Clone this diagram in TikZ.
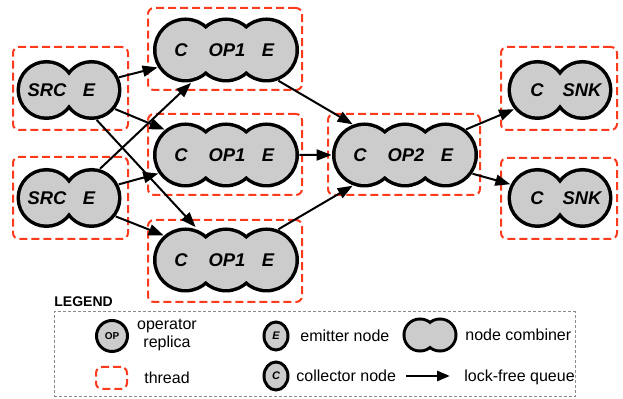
\documentclass[tikz,border=0pt]{standalone}
\usepackage{fontspec}
\setmainfont{Liberation Sans}
\usetikzlibrary{arrows.meta,shapes.misc,shapes.geometric}
\definecolor{lobegray}{RGB}{204,204,204}
\definecolor{threadred}{RGB}{252,58,28}
\definecolor{legendgray}{RGB}{140,140,140}

\begin{document}
\begin{tikzpicture}[x=0.5pt,y=-0.5pt,
	twocomb/.style={rounded rectangle, minimum width=52.5pt, minimum height=30pt, inner sep=0pt},
	threecomb/.style={rounded rectangle, minimum width=73pt, minimum height=32.5pt, inner sep=0pt},
	lobe/.style={fill=lobegray, draw=black, line width=3.5pt},
	thread/.style={draw=threadred, dash pattern=on 4pt off 2pt, line width=1pt,
		rounded corners=3pt, inner sep=0pt},
	queue/.style={-{Triangle[length=7.5pt,width=5.5pt]}, line width=1pt},
	lbl/.style={font=\fontsize{9.2}{11}\selectfont\bfseries\itshape, inner sep=0pt},
	legtext/.style={font=\fontsize{8}{9}\selectfont, inner sep=0pt}]
	\useasboundingbox (0,0) rectangle (623,399);

	% threads
	\node[thread, minimum width=57.5pt, minimum height=41.5pt] (src1-th) at (70.5,88.5) {};
	\node[thread, minimum width=57.5pt, minimum height=41pt] (src2-th) at (70.5,198) {};
	\node[thread, minimum width=77pt, minimum height=41pt] (op1a-th) at (225,49) {};
	\node[thread, minimum width=77pt, minimum height=40.5pt] (op1b-th) at (225,154.5) {};
	\node[thread, minimum width=77pt, minimum height=41pt] (op1c-th) at (225,261) {};
	\node[thread, minimum width=76pt, minimum height=40.5pt] (op2-th) at (404,154.5) {};
	\node[thread, minimum width=58pt, minimum height=41.5pt] (snk1-th) at (559,88.5) {};
	\node[thread, minimum width=58pt, minimum height=40.5pt] (snk2-th) at (559,198.5) {};

	% node combiners
	\node[twocomb] (src1) at (69,90) {};
	\node[twocomb] (src2) at (69,198) {};
	\node[threecomb] (op1a) at (226,50) {};
	\node[threecomb] (op1b) at (226,155) {};
	\node[threecomb] (op1c) at (226,260) {};
	\node[threecomb] (op2) at (405,155) {};
	\node[twocomb] (snk1) at (560,90) {};
	\node[twocomb] (snk2) at (560,198) {};

	\foreach \n in {src1,src2,snk1,snk2}
		\draw[lobe] ([xshift=-11.25pt]\n.center) circle[radius=13.25pt]
			([xshift=11.25pt]\n.center) circle[radius=13.25pt];
	\foreach \n in {op1a,op1b,op1c,op2}
		\draw[lobe] ([xshift=-20.25pt]\n.center) circle[radius=14.5pt]
			(\n.center) circle[radius=14.5pt]
			([xshift=20.25pt]\n.center) circle[radius=14.5pt];
	\foreach \n in {src1,src2,snk1,snk2}
		\fill[lobegray] ([xshift=-11.25pt]\n.center) circle[radius=13.25pt]
			([xshift=11.25pt]\n.center) circle[radius=13.25pt];
	\foreach \n in {op1a,op1b,op1c,op2}
		\fill[lobegray] ([xshift=-20.25pt]\n.center) circle[radius=14.5pt]
			(\n.center) circle[radius=14.5pt]
			([xshift=20.25pt]\n.center) circle[radius=14.5pt];

	% labels
	\node[lbl] (src1-src) at ([xshift=-11pt]src1.center) {SRC};
	\node[lbl] (src1-e) at ([xshift=10pt]src1.center) {E};
	\node[lbl] (src2-src) at ([xshift=-11pt]src2.center) {SRC};
	\node[lbl] (src2-e) at ([xshift=10pt]src2.center) {E};
	\foreach \n/\t in {op1a/OP1,op1b/OP1,op1c/OP1,op2/OP2} {
		\node[lbl] (\n-c) at ([xshift=-22.5pt]\n.center) {C};
		\node[lbl] (\n-op) at ([xshift=0.5pt]\n.center) {\t};
		\node[lbl] (\n-e) at ([xshift=21pt]\n.center) {E};
	}
	\node[lbl] (snk1-c) at ([xshift=-11.5pt]snk1.center) {C};
	\node[lbl] (snk1-snk) at ([xshift=11pt]snk1.center) {SNK};
	\node[lbl] (snk2-c) at ([xshift=-11.5pt]snk2.center) {C};
	\node[lbl] (snk2-snk) at ([xshift=11pt]snk2.center) {SNK};

	% queues
	\foreach \s in {src1,src2}
		\foreach \t in {op1a,op1b,op1c}
			\draw[queue] (\s) -- (\t);
	\foreach \s in {op1a,op1b,op1c}
		\draw[queue] (\s) -- (op2);
	\draw[queue] (op2) -- (snk1);
	\draw[queue] (op2) -- (snk2);

	% legend
	\node[font=\fontsize{7}{8}\selectfont\bfseries, anchor=west, inner sep=0pt] (legend) at (54,302) {LEGEND};
	\node[draw=legendgray, dash pattern=on 1.5pt off 1pt, line width=0.5pt,
		minimum width=260.5pt, minimum height=42.5pt, inner sep=0pt] (legbox) at (314.5,354.5) {};

	\node[circle, draw, fill=lobegray, line width=1.5pt, minimum size=15.5pt, inner sep=0pt,
		font=\fontsize{5}{6}\selectfont\bfseries] (leg-op) at (112,336) {OP};
	\node[legtext, align=center] (leg-op-t) at (167,335) {operator\\replica};
	\node[thread, minimum width=15.5pt, minimum height=11pt] (leg-th) at (111.5,378) {};
	\node[legtext] (leg-th-t) at (167,378) {thread};

	\node[ellipse, draw, fill=lobegray, line width=1.5pt, minimum width=12pt, minimum height=14pt,
		inner sep=0pt, font=\fontsize{5.5}{6}\selectfont\bfseries\itshape] (leg-e) at (276,336) {E};
	\node[legtext, anchor=west] (leg-e-t) at (300,336) {emitter node};
	\node[ellipse, draw, fill=lobegray, line width=1.5pt, minimum width=12pt, minimum height=14pt,
		inner sep=0pt, font=\fontsize{5.5}{6}\selectfont\bfseries\itshape] (leg-c) at (276,376) {C};
	\node[legtext, anchor=west] (leg-c-t) at (296,376) {collector node};

	\node[rounded rectangle, minimum width=27.5pt, minimum height=17.5pt, inner sep=0pt] (leg-comb) at (430,335) {};
	\draw[fill=lobegray, line width=3pt] ([xshift=-5pt]leg-comb.center) circle[radius=7.25pt]
		([xshift=5pt]leg-comb.center) circle[radius=7.25pt];
	\fill[lobegray] ([xshift=-5pt]leg-comb.center) circle[radius=7.25pt]
		([xshift=5pt]leg-comb.center) circle[radius=7.25pt];
	\node[legtext, anchor=west] (leg-comb-t) at (465,335) {node combiner};

	\coordinate (leg-q-a) at (406,376);
	\coordinate (leg-q-b) at (450,376);
	\draw[queue, -{Triangle[length=6.5pt,width=5pt]}, line width=1.4pt] (leg-q-a) -- (leg-q-b);
	\node[legtext, anchor=west] (leg-q-t) at (464,377) {lock-free queue};
\end{tikzpicture}
\end{document}
